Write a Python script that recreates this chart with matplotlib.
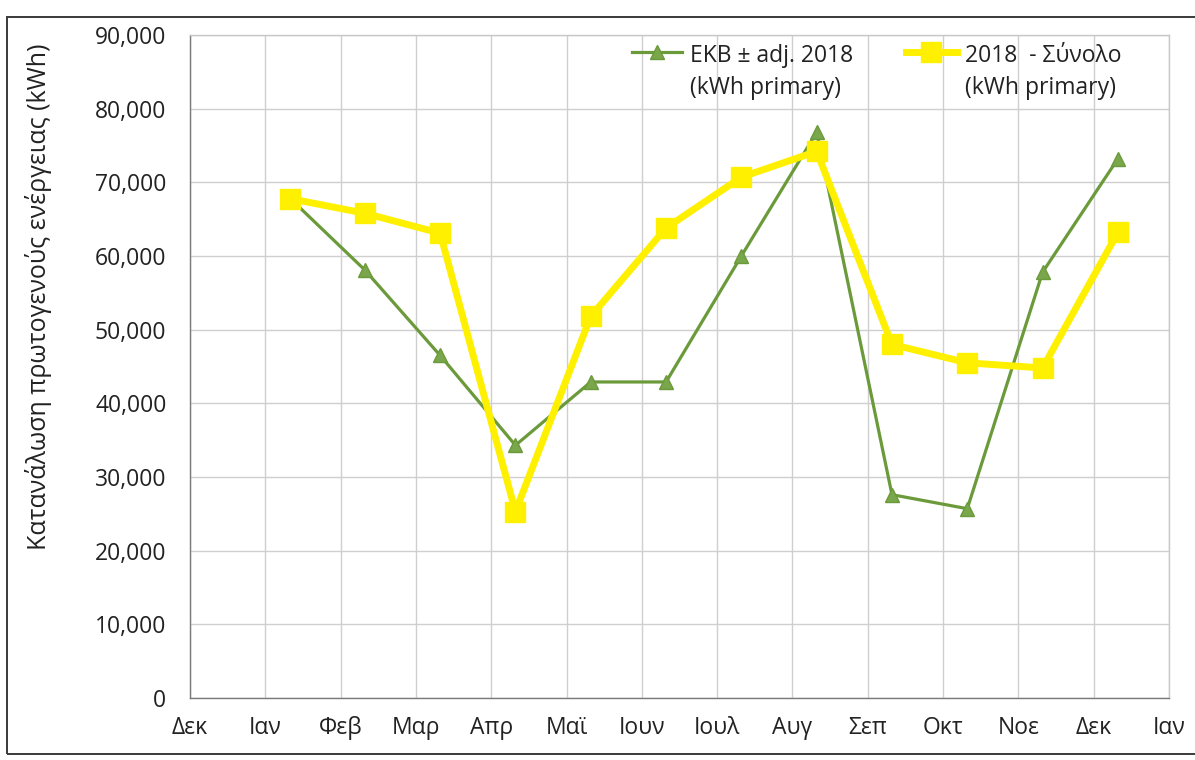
import matplotlib
matplotlib.use("Agg")
import matplotlib.pyplot as plt
import matplotlib.ticker as mticker
from matplotlib.patches import Rectangle
import numpy as np

plt.rcParams['font.family'] = ['Open Sans', 'DejaVu Sans']

# ---- data ----
tick_labels = ["Δεκ", "Ιαν", "Φεβ", "Μαρ", "Απρ", "Μαϊ", "Ιουν", "Ιουλ",
               "Αυγ", "Σεπ", "Οκτ", "Νοε", "Δεκ", "Ιαν"]
data_months = [1, 2, 3, 4, 5, 6, 7, 8, 9, 10, 11, 12]   # month index of each reading (Ιαν 2018 = 1)
reading_day = 10                                       # readings taken around the 10th of each month
ekb_adj_2018 = [67900, 58100, 46500, 34300, 42900, 42900,
                60000, 76800, 27600, 25700, 57800, 73200]
total_2018 = [67800, 65800, 63100, 25300, 51800, 63800,
              70700, 74200, 48000, 45500, 44800, 63200]
label_ekb = "EKB ± adj. 2018\n(kWh primary)"
label_total = "2018  - Σύνολο\n(kWh primary)"
y_label = "Κατανάλωση πρωτογενούς ενέργειας (kWh)"

W, H = 1195, 760
fig = plt.figure(figsize=(W / 100, H / 100), dpi=100)
fig.patch.set_facecolor("white")

# outer chart frame
fig.patches.append(Rectangle((7 / W, 1 - 754 / H), 1.2, (754 - 17) / H,
                             transform=fig.transFigure, fill=False,
                             edgecolor="#3a3a3a", linewidth=1.4))

left, right, top, bottom = 190, 1169, 35, 698
ax = fig.add_axes([left / W, 1 - bottom / H, (right - left) / W, (bottom - top) / H])

x = np.array(data_months) + (reading_day - 1) / 28.0

ax.plot(x, ekb_adj_2018, color="#6b9a3a", linewidth=2.3, marker="^",
        markersize=10, markerfacecolor="#7aa64c", markeredgecolor="#6b9a3a",
        label=label_ekb, zorder=3)
ax.plot(x, total_2018, color="#fff000", linewidth=5, marker="s",
        markersize=14, markerfacecolor="#fff000", markeredgecolor="#fff000",
        label=label_total, zorder=4)

ax.set_xlim(0, len(tick_labels) - 1)
ax.set_ylim(0, 90000)
ax.set_xticks(np.arange(len(tick_labels)))
ax.set_xticklabels(tick_labels)
ax.set_yticks(np.arange(0, 90001, 10000))
ax.yaxis.set_major_formatter(mticker.FuncFormatter(lambda v, p: f"{v:,.0f}"))

ax.grid(True, color="#cfcfcf", linewidth=1.0)
ax.set_axisbelow(True)
for s in ["top", "right"]:
    ax.spines[s].set_color("#c8c8c8")
for s in ["left", "bottom"]:
    ax.spines[s].set_color("#7a7a7a")
for s in ax.spines.values():
    s.set_linewidth(1.0)

ax.tick_params(axis="both", length=0, labelsize=16.5, colors="#222222")
ax.tick_params(axis="y", pad=17)
ax.tick_params(axis="x", pad=13)

ax.set_ylabel(y_label, fontsize=18, color="#222222")
ax.yaxis.set_label_coords(-0.141, 0.605)

leg = ax.legend(loc="upper left", bbox_to_anchor=((632 - left) / (right - left), (bottom - 44) / (bottom - top)),
                ncol=2, frameon=False, fontsize=16.5, borderpad=0, borderaxespad=0,
                handlelength=2.2, handletextpad=0.35, columnspacing=2.3, labelspacing=0.2)
for t in leg.get_texts():
    t.set_color("#222222")
    t.set_linespacing(1.45)
for col in leg._legend_handle_box.get_children():
    for row in col.get_children():
        row.align = "top"

fig.savefig("out.png", dpi=100, facecolor="white")
